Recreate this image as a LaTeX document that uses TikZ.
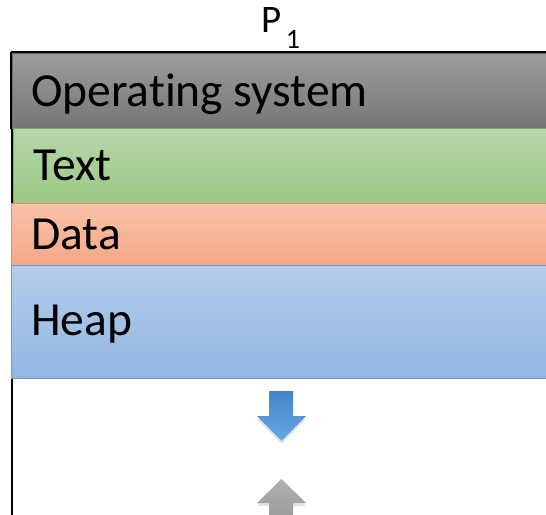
\documentclass[tikz,border=0pt]{standalone}
\usepackage{fontspec}
\setmainfont{Carlito}[Ligatures={NoCommon}]
\usetikzlibrary{shadows}
\definecolor{osTop}{HTML}{9C9C9C}
\definecolor{osBot}{HTML}{767676}
\definecolor{osLine}{HTML}{6A6A6A}
\definecolor{txTop}{HTML}{B6D7A9}
\definecolor{txBot}{HTML}{9BC884}
\definecolor{txLine}{HTML}{7DB35F}
\definecolor{daTop}{HTML}{F9C2A9}
\definecolor{daBot}{HTML}{F5A785}
\definecolor{daLine}{HTML}{EE8A4E}
\definecolor{hpTop}{HTML}{B2CCE9}
\definecolor{hpBot}{HTML}{93B7E2}
\definecolor{hpLine}{HTML}{62A0DD}
\definecolor{arBlueTop}{HTML}{3F86C8}
\definecolor{arBlueBot}{HTML}{68A8E4}
\definecolor{arGrayTop}{HTML}{B0B0B0}
\definecolor{arGrayBot}{HTML}{959595}
\tikzset{
  band/.style={rectangle, anchor=north west, inner sep=0pt, minimum width=540pt, line width=1pt},
  seglabel/.style={anchor=base west, inner sep=0pt, font=\fontsize{47.5}{54}\selectfont},
  memarrow/.style={drop shadow={opacity=0.22, shadow xshift=0pt, shadow yshift=-3pt}},
}
\begin{document}
\begin{tikzpicture}[x=1pt, y=-1pt]
  \useasboundingbox (0,0) rectangle (546,514);
  \clip (0,0) rectangle (546,514);

  % process title
  \node[anchor=base, inner sep=0pt, font=\fontsize{39}{42}\selectfont] (title) at (281,32)
    {P\kern4pt\raisebox{-16pt}{\fontsize{28}{30}\selectfont 1}};

  % address space frame
  \node[rectangle, draw=black, line width=2pt, anchor=north west, inner sep=0pt,
        minimum width=541pt, minimum height=560pt] (frame) at (11,52) {};

  % memory segments
  \node[band, minimum height=75pt, draw=osLine, top color=osTop, bottom color=osBot] (os) at (12,53) {};
  \node[band, minimum height=75pt, draw=txLine, top color=txTop, bottom color=txBot] (text) at (13,128) {};
  \node[band, minimum height=62pt, draw=daLine, top color=daTop, bottom color=daBot] (data) at (11,203) {};
  \node[band, minimum height=113pt, draw=hpLine, top color=hpTop, bottom color=hpBot] (heap) at (11,265) {};
  \draw[black, line width=2pt] (frame.north west) -- (os.south west -| frame.west);
  \draw[black, line width=2pt] (frame.north west) -- (frame.north east);

  \node[seglabel] (oslabel) at (31,106.5) {Operating system};
  \node[seglabel] (textlabel) at (33,180.5) {Text};
  \node[seglabel] (datalabel) at (31,249.5) {Data};
  \node[seglabel] (heaplabel) at (31,335) {Heap};

  % heap grows down, stack grows up
  \shade[memarrow, top color=arBlueTop, bottom color=arBlueBot]
    (269,391) -- (293,391) -- (293,416) -- (306,416) -- (281.5,441)
    -- (257,416) -- (269,416) -- cycle;
  \shade[memarrow, top color=arGrayTop, bottom color=arGrayBot]
    (281.5,479) -- (306,503) -- (293,503) -- (293,530) -- (269,530)
    -- (269,503) -- (257,503) -- cycle;
\end{tikzpicture}
\end{document}
